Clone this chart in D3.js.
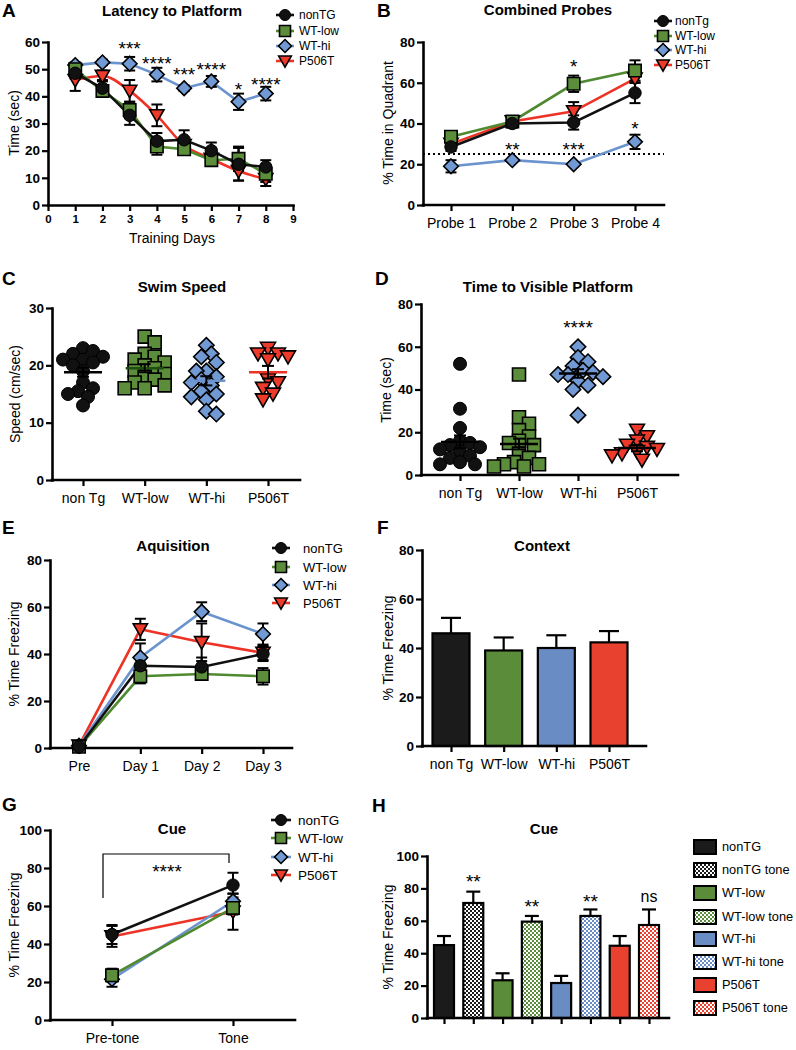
<!DOCTYPE html>
<html><head><meta charset="utf-8">
<script src="https://cdn.jsdelivr.net/npm/d3@7"></script>
<style>body{margin:0;background:#fff} svg text{font-family:"Liberation Sans",Arial,Helvetica,sans-serif}</style>
</head><body><svg id="c" width="796" height="1050"></svg>
<script>
// ---------------- DATA ----------------
const legendA = ["nonTG","WT-low","WT-hi","P506T"];
const legendB = ["nonTg","WT-low","WT-hi","P506T"];
const groupCats = ["non Tg","WT-low","WT-hi","P506T"];

// A: Latency to Platform
const days = [1,2,3,4,5,6,7,8];
const dayTicks = [0,1,2,3,4,5,6,7,8,9];
const latNonTG = [48.5,43,33,23.5,24,20,15,14];
const latNonTGErr = [2,3,3.5,3,3.5,3,6,2.5];
const latWTlow = [50,42,35,21.5,20.5,16.5,17,11.5];
const latWTlowErr = [2,2,3,3,2,2,4.5,3];
const latWThi = [51.5,52.5,52,48,43,45.5,38,41];
const latWThiErr = [1,1,2.5,2.5,1,2,3,2.5];
const latP506T = [46,47.5,42,33,22,17,12.5,9.5];
const latP506TErr = [4,2,4,4,2,2,3.5,2.5];
const latStars = ["","","***","****","***","****","*","****"];
const latStarY = [0,0,59,53.5,49.5,51.5,44,46];
const latYTicks = [0,10,20,30,40,50,60];

// B: Combined Probes
const probes = ["Probe 1","Probe 2","Probe 3","Probe 4"];
const prbNonTg = [28.5,40,40.5,55];
const prbNonTgErr = [2,2,3.5,5];
const prbWTlow = [33.5,41,59.5,66];
const prbWTlowErr = [2,2,4,5];
const prbWThi = [19,22,20,31];
const prbWThiErr = [3,0.5,0.5,3.5];
const prbP506T = [30,41,46,62];
const prbP506TErr = [2,1.5,4.5,2];
const prbChance = 25;
const prbStars = [{cat:"Probe 3",text:"*",y:70},{cat:"Probe 4",text:"*",y:39.5},{cat:"Probe 2",text:"**",y:29},{cat:"Probe 3",text:"***",y:29}];
const prbYTicks = [0,20,40,60,80];

// C: Swim Speed (individual animals)
const speedNonTg = [23,22.5,22,21.5,21,21,20.5,20,19,17,16,15.5,15,14.5,13];
const speedWTlow = [25,24,22,21.5,21,20.5,20,19.5,19,18.5,18,17.5,17,16.5,16,16];
const speedWThi = [23.5,22,21.5,20.5,19,19,18,17.5,17,16.5,15.5,15,14.5,14,12,11.5];
const speedP506T = [23,22,22,21.5,21,17.5,17,16,15,14];
const speedMean = [18.8,19.5,17.3,18.8];
const speedSem = [0.8,0.7,0.8,1.1];
const speedYTicks = [0,10,20,30];

// D: Time to Visible Platform
const visNonTg = [52,31,22,16,15,14,13,12,11,9,8,6,5,5];
const visWTlow = [47,27,24,21,18,16,15,14,10,8,6,5,5,4,4];
const visWThi = [60,55,53,51,49,48,47,47,46,44,42,40,28];
const visP506T = [21,18,16,14,13,12,11,10,9,7];
const visMean = [15.5,14.5,47.5,12.6];
const visSem = [3,2.5,2,1.5];
const visStar = {cat:"WT-hi",text:"****",y:71};
const visYTicks = [0,20,40,60,80];

// E: Aquisition
const sessions = ["Pre","Day 1","Day 2","Day 3"];
const acqNonTG = [0.5,35,34.5,40];
const acqNonTGErr = [0.5,4,4,3];
const acqWTlow = [0.5,30.5,31.5,30.5];
const acqWTlowErr = [0.5,3,2,3.5];
const acqWThi = [1,38.5,58,48.5];
const acqWThiErr = [0.5,6,4,4.5];
const acqP506T = [1,50.5,45,40.5];
const acqP506TErr = [0.5,4.5,8,3];
const freezeYTicks80 = [0,20,40,60,80];

// F: Context
const ctxValues = [46,39,40,42.3];
const ctxErr = [6.3,5.3,5.2,4.6];

// G: Cue (lines)
const cuePhases = ["Pre-tone","Tone"];
const cueNonTG = [45,71];
const cueNonTGErr = [5,6.5];
const cueWTlow = [23.5,59];
const cueWTlowErr = [3.5,3.5];
const cueWThi = [21.5,62.5];
const cueWThiErr = [4,4];
const cueP506T = [44,57];
const cueP506TErr = [5.5,9.5];
const cueYTicks = [0,20,40,60,80,100];

// H: Cue (bars)
const cueBarLabels = ["nonTG","nonTG tone","WT-low","WT-low tone","WT-hi","WT-hi tone","P506T","P506T tone"];
const cueBarValues = [45,71,23.3,59.5,21.6,63,44.6,57.4];
const cueBarErr = [5.6,7,4.3,3.5,4.4,4,6,9.6];
const cueBarStars = ["","**","","**","","**","","ns"];
const cueBarStarY = [0,87,0,71,0,74.5,0,74.5];

// ---------------- STYLE ----------------
const COL = {
  black:{line:"#111",fill:"#111"},
  green:{line:"#4f8a30",fill:"#5b8d3b"},
  blue:{line:"#6b93cd",fill:"#7199d3"},
  red:{line:"#ee3326",fill:"#ee3a2b"}
};
const styles = [
  {c:COL.black, shape:"circle"},
  {c:COL.green, shape:"square"},
  {c:COL.blue, shape:"diamond"},
  {c:COL.red, shape:"tri"}
];
const barFill = ["#1b1b1b","#5b8c3a","#6a8cc4","#e8412f"];

const svg = d3.select("#c");
const defs = svg.append("defs");

function shapePath(shape, s){
  switch(shape){
    case "circle": return `M${-s},0A${s},${s} 0 1,0 ${s},0A${s},${s} 0 1,0 ${-s},0Z`;
    case "square": return `M${-s},${-s}H${s}V${s}H${-s}Z`;
    case "diamond": {const h=s*1.18; return `M0,${-h}L${h},0L0,${h}L${-h},0Z`;}
    case "tri": {const w=s*1.15; return `M${-w},${-s*0.9}L${w},${-s*0.9}L0,${s*1.1}Z`;}
  }
}
function marker(g, st, x, y, s){
  g.append("path").attr("d",shapePath(st.shape,s)).attr("transform",`translate(${x},${y})`)
   .attr("fill",st.c.fill).attr("stroke","#000").attr("stroke-width",st.shape==="circle"?1:1.6);
}
function styleAxis(a){
  a.select(".domain").attr("stroke","#000").attr("stroke-width",2.6).attr("stroke-linecap","square");
  a.selectAll(".tick line").attr("stroke","#000").attr("stroke-width",2.2);
  a.selectAll("text").attr("fill","#000");
}
function yAxis(g, y, x0, ticks){
  const a = g.append("g").attr("transform",`translate(${x0},0)`)
    .call(d3.axisLeft(y).tickValues(ticks).tickSize(6).tickSizeOuter(0).tickPadding(2));
  styleAxis(a);
  a.selectAll("text").attr("font-size",13.5).attr("font-weight","bold");
  return a;
}
function catAxis(g, xs, y0, x0, x1, showLabels){
  const a = g.append("g").attr("transform",`translate(0,${y0})`)
    .call(d3.axisBottom(xs).tickSize(6).tickPadding(7).tickFormat(showLabels?null:""));
  a.select(".domain").remove();
  styleAxis(a);
  a.selectAll("text").attr("font-size",14);
  g.append("line").attr("x1",x0).attr("x2",x1).attr("y1",y0).attr("y2",y0)
   .attr("stroke","#000").attr("stroke-width",2.6).attr("stroke-linecap","square");
}
function text(g, x, y, str, opt={}){
  return g.append("text").attr("x",x).attr("y",y).text(str)
    .attr("font-size",opt.size||14).attr("font-weight",opt.bold?"bold":"normal")
    .attr("text-anchor",opt.anchor||"middle").attr("fill","#000");
}
function yLabel(g, x, yc, str){
  g.append("text").attr("transform",`translate(${x},${yc}) rotate(-90)`).attr("text-anchor","middle")
   .attr("dy","0.35em").attr("font-size",14).text(str);
}
function errBar(g, x, y1, y2, cap){
  g.append("line").attr("x1",x).attr("x2",x).attr("y1",y1).attr("y2",y2).attr("stroke","#000").attr("stroke-width",2);
  [y1,y2].forEach(yy=>g.append("line").attr("x1",x-cap).attr("x2",x+cap).attr("y1",yy).attr("y2",yy).attr("stroke","#000").attr("stroke-width",2));
}
function drawSeries(g, xf, y, series, ms){
  const order = [3,2,1,0];
  order.forEach(i=>{
    const s = series[i];
    const line = d3.line().x((d,j)=>xf(j)).y(d=>y(d)).curve(s.curve||d3.curveLinear);
    g.append("path").attr("d",line(s.vals)).attr("fill","none").attr("stroke",s.st.c.line).attr("stroke-width",2.6);
  });
  order.forEach(i=>{
    const s = series[i];
    s.vals.forEach((v,j)=>errBar(g, xf(j), y(v+s.errs[j]), y(v-s.errs[j]), 5.5));
  });
  order.forEach(i=>{
    const s = series[i];
    s.vals.forEach((v,j)=>marker(g, s.st, xf(j), y(v), ms));
  });
}
function legend(g, x, rows, labels, lineHalf, textX, size){
  labels.forEach((lab,i)=>{
    const st = styles[i];
    g.append("line").attr("x1",x-lineHalf).attr("x2",x+lineHalf).attr("y1",rows[i]).attr("y2",rows[i])
      .attr("stroke",st.c.line).attr("stroke-width",2.6);
    marker(g, st, x, rows[i], 5.5);
    text(g, textX, rows[i], lab, {size:size, anchor:"start"}).attr("dy","0.35em");
  });
}
// star annotation: yPix is the visual centre of the asterisks
function stars(g, x, yPix, str){
  if(str==="ns") text(g, x, yPix+5, str, {size:16});
  else text(g, x, yPix+10.5, str, {size:19});
}
function beeswarm(vals, y, cx, minD, step){
  const placed = [];
  const sorted = vals.slice().sort((a,b)=>b-a);
  sorted.forEach(v=>{
    const py = y(v);
    for(let k=0;k<60;k++){
      const off = (k===0)?0:(k%2===1? 1:-1)*Math.ceil(k/2)*step;
      const px = cx+off;
      if(placed.every(p=>Math.hypot(p.x-px,p.y-py)>=minD)){ placed.push({x:px,y:py,v}); break; }
    }
  });
  return placed;
}

// ---------------- PANEL A ----------------
(function(){
  const g = svg.append("g");
  const x = d3.scaleLinear().domain([0,9]).range([48,293]);
  const y = d3.scaleLinear().domain([0,60]).range([205,42]);
  const xa = g.append("g").attr("transform","translate(0,205)")
    .call(d3.axisBottom(x).tickValues(dayTicks).tickSize(6).tickSizeOuter(0).tickPadding(4));
  styleAxis(xa); xa.selectAll("text").attr("font-size",11.5).attr("font-weight","bold");
  yAxis(g, y, 48, latYTicks);
  const xf = j=>x(days[j]);
  drawSeries(g, xf, y, [
    {vals:latNonTG, errs:latNonTGErr, st:styles[0]},
    {vals:latWTlow, errs:latWTlowErr, st:styles[1]},
    {vals:latWThi, errs:latWThiErr, st:styles[2]},
    {vals:latP506T, errs:latP506TErr, st:styles[3], curve:d3.curveMonotoneX}
  ], 6.2);
  latStars.forEach((s,j)=>{ if(s) stars(g, xf(j), y(latStarY[j]), s); });
  text(g, 172, 16, "Latency to Platform", {size:15, bold:true});
  text(g, 2, 17, "A", {size:19, bold:true, anchor:"start"});
  text(g, 172, 243, "Training Days", {size:14});
  yLabel(g, 14, 123, "Time (sec)");
  legend(g, 285, [15,31,46,61], legendA, 9, 299, 12);
})();

// ---------------- PANEL B ----------------
(function(){
  const g = svg.append("g");
  const x = d3.scalePoint().domain(probes).range([451,635]);
  const y = d3.scaleLinear().domain([0,80]).range([205,42]);
  g.append("line").attr("x1",423).attr("x2",664).attr("y1",y(prbChance)).attr("y2",y(prbChance))
    .attr("stroke","#000").attr("stroke-width",2).attr("stroke-dasharray","2,3");
  catAxis(g, x, 205, 423, 664, true);
  yAxis(g, y, 423, prbYTicks);
  const xf = j=>x(probes[j]);
  drawSeries(g, xf, y, [
    {vals:prbNonTg, errs:prbNonTgErr, st:styles[0]},
    {vals:prbWTlow, errs:prbWTlowErr, st:styles[1]},
    {vals:prbWThi, errs:prbWThiErr, st:styles[2]},
    {vals:prbP506T, errs:prbP506TErr, st:styles[3]}
  ], 6.2);
  prbStars.forEach(s=>stars(g, x(s.cat), y(s.y), s.text));
  text(g, 548, 15, "Combined Probes", {size:15, bold:true});
  text(g, 377, 17, "B", {size:19, bold:true, anchor:"start"});
  yLabel(g, 388, 123, "% Time in Quadrant");
  legend(g, 663, [21,36,50,65], legendB, 9, 675, 12);
})();

// ---------------- PANEL C & D (scatter) ----------------
function scatterPanel(cfg){
  const g = svg.append("g");
  const x = d3.scalePoint().domain(groupCats).range(cfg.xr);
  const y = d3.scaleLinear().domain(cfg.dom).range(cfg.yr);
  catAxis(g, x, cfg.yr[0], cfg.ax0, cfg.ax1, true);
  yAxis(g, y, cfg.ax0, cfg.ticks);
  cfg.groups.forEach((vals,i)=>{
    const pts = beeswarm(vals, y, x(groupCats[i]), 9.5, 5);
    pts.forEach(p=>marker(g, styles[i], p.x, p.y, 6.5));
  });
  cfg.groups.forEach((vals,i)=>{
    const cx = x(groupCats[i]);
    const mc = cfg.meanColor ? cfg.meanColor[i] : "#000";
    g.append("line").attr("x1",cx-19).attr("x2",cx+19).attr("y1",y(cfg.mean[i])).attr("y2",y(cfg.mean[i]))
      .attr("stroke",mc).attr("stroke-width",2.4);
    errBar(g, cx, y(cfg.mean[i]+cfg.sem[i]), y(cfg.mean[i]-cfg.sem[i]), 6);
  });
  return {g,x,y};
}
(function(){
  const r = scatterPanel({xr:[83,268], dom:[0,30], yr:[480,308], ax0:52, ax1:300, ticks:speedYTicks,
    groups:[speedNonTg,speedWTlow,speedWThi,speedP506T], mean:speedMean, sem:speedSem,
    meanColor:["#000","#1f4f10","#6b93cd","#ee3326"]});
  text(r.g, 182, 292, "Swim Speed", {size:15, bold:true});
  text(r.g, 2, 285, "C", {size:19, bold:true, anchor:"start"});
  yLabel(r.g, 15, 394, "Speed (cm/sec)");
})();
(function(){
  const r = scatterPanel({xr:[460,637], dom:[0,80], yr:[475,304], ax0:421, ax1:678, ticks:visYTicks,
    groups:[visNonTg,visWTlow,visWThi,visP506T], mean:visMean, sem:visSem});
  stars(r.g, r.x(visStar.cat), r.y(visStar.y), visStar.text);
  text(r.g, 548, 292, "Time to Visible Platform", {size:15, bold:true});
  text(r.g, 375, 285, "D", {size:19, bold:true, anchor:"start"});
  yLabel(r.g, 386, 390, "Time (sec)");
})();

// ---------------- PANEL E ----------------
(function(){
  const g = svg.append("g");
  const x = d3.scalePoint().domain(sessions).range([79,263]);
  const y = d3.scaleLinear().domain([0,80]).range([748,560]);
  catAxis(g, x, 748, 50, 292, true);
  yAxis(g, y, 50, freezeYTicks80);
  const xf = j=>x(sessions[j]);
  drawSeries(g, xf, y, [
    {vals:acqNonTG, errs:acqNonTGErr, st:styles[0]},
    {vals:acqWTlow, errs:acqWTlowErr, st:styles[1]},
    {vals:acqWThi, errs:acqWThiErr, st:styles[2]},
    {vals:acqP506T, errs:acqP506TErr, st:styles[3]}
  ], 6.2);
  text(g, 173, 551, "Aquisition", {size:15, bold:true});
  text(g, 2, 534, "E", {size:19, bold:true, anchor:"start"});
  yLabel(g, 14, 654, "% Time Freezing");
  legend(g, 281, [548,567,585,603], legendA, 9, 303, 13);
})();

// ---------------- PANEL F ----------------
(function(){
  const g = svg.append("g");
  const x = d3.scalePoint().domain(groupCats).range([451,609]);
  const y = d3.scaleLinear().domain([0,80]).range([746,550]);
  ctxValues.forEach((v,i)=>{
    const cx = x(groupCats[i]);
    g.append("line").attr("x1",cx).attr("x2",cx).attr("y1",y(v)).attr("y2",y(v+ctxErr[i])).attr("stroke","#000").attr("stroke-width",2.2);
    g.append("line").attr("x1",cx-10).attr("x2",cx+10).attr("y1",y(v+ctxErr[i])).attr("y2",y(v+ctxErr[i])).attr("stroke","#000").attr("stroke-width",2.2);
    g.append("rect").attr("x",cx-18.5).attr("width",37).attr("y",y(v)).attr("height",y(0)-y(v))
      .attr("fill",barFill[i]).attr("stroke","#000").attr("stroke-width",2.2);
  });
  catAxis(g, x, 746, 422, 646, true);
  yAxis(g, y, 422, freezeYTicks80);
  text(g, 542, 551, "Context", {size:15, bold:true});
  text(g, 377, 534, "F", {size:19, bold:true, anchor:"start"});
  yLabel(g, 388, 648, "% Time Freezing");
})();

// ---------------- PANEL G ----------------
(function(){
  const g = svg.append("g");
  const x = d3.scalePoint().domain(cuePhases).range([112,233]);
  const y = d3.scaleLinear().domain([0,100]).range([1020,830]);
  catAxis(g, x, 1020, 50, 295, true);
  yAxis(g, y, 50, cueYTicks);
  const xf = j=>x(cuePhases[j]);
  drawSeries(g, xf, y, [
    {vals:cueNonTG, errs:cueNonTGErr, st:styles[0]},
    {vals:cueWTlow, errs:cueWTlowErr, st:styles[1]},
    {vals:cueWThi, errs:cueWThiErr, st:styles[2]},
    {vals:cueP506T, errs:cueP506TErr, st:styles[3]}
  ], 6.2);
  g.append("path").attr("d",`M103,898V854H229V863`).attr("fill","none").attr("stroke","#000").attr("stroke-width",1.2);
  stars(g, 167, 867, "****");
  text(g, 172, 834, "Cue", {size:15, bold:true});
  text(g, 2, 811, "G", {size:19, bold:true, anchor:"start"});
  yLabel(g, 14, 925, "% Time Freezing");
  legend(g, 281, [820,838,857,875], legendA, 10, 298, 13.5);
})();

// ---------------- PANEL H ----------------
(function(){
  const g = svg.append("g");
  const fills = [];
  [0,1,2,3].forEach(i=>{
    const p = defs.append("pattern").attr("id","chk"+i).attr("width",4).attr("height",4).attr("patternUnits","userSpaceOnUse");
    p.append("rect").attr("width",4).attr("height",4).attr("fill","#fff");
    p.append("rect").attr("width",2).attr("height",2).attr("fill",barFill[i]);
    p.append("rect").attr("x",2).attr("y",2).attr("width",2).attr("height",2).attr("fill",barFill[i]);
    fills.push(barFill[i]); fills.push(`url(#chk${i})`);
  });
  const x = d3.scalePoint().domain(cueBarLabels).range([444,649]);
  const y = d3.scaleLinear().domain([0,100]).range([1018,856]);
  cueBarValues.forEach((v,i)=>{
    const cx = x(cueBarLabels[i]);
    const top = y(v+cueBarErr[i]);
    g.append("line").attr("x1",cx).attr("x2",cx).attr("y1",y(v)).attr("y2",top).attr("stroke","#000").attr("stroke-width",2.2);
    g.append("line").attr("x1",cx-7).attr("x2",cx+7).attr("y1",top).attr("y2",top).attr("stroke","#000").attr("stroke-width",2.2);
    g.append("rect").attr("x",cx-10).attr("width",20).attr("y",y(v)).attr("height",y(0)-y(v))
      .attr("fill",fills[i]).attr("stroke","#000").attr("stroke-width",2.2);
    if(cueBarStars[i]) stars(g, cx, y(cueBarStarY[i]), cueBarStars[i]);
  });
  catAxis(g, x, 1018, 427, 669, false);
  yAxis(g, y, 427, cueYTicks);
  text(g, 544, 834, "Cue", {size:15, bold:true});
  text(g, 372, 812, "H", {size:19, bold:true, anchor:"start"});
  yLabel(g, 388, 937, "% Time Freezing");
  const rows = [847,870,893,917,939,962,985,1008];
  cueBarLabels.forEach((lab,i)=>{
    g.append("rect").attr("x",694).attr("y",rows[i]-7).attr("width",22).attr("height",14)
      .attr("fill",fills[i]).attr("stroke","#000").attr("stroke-width",2);
    text(g, 722, rows[i], lab, {size:12.8, anchor:"start"}).attr("dy","0.35em");
  });
})();
</script></body></html>
